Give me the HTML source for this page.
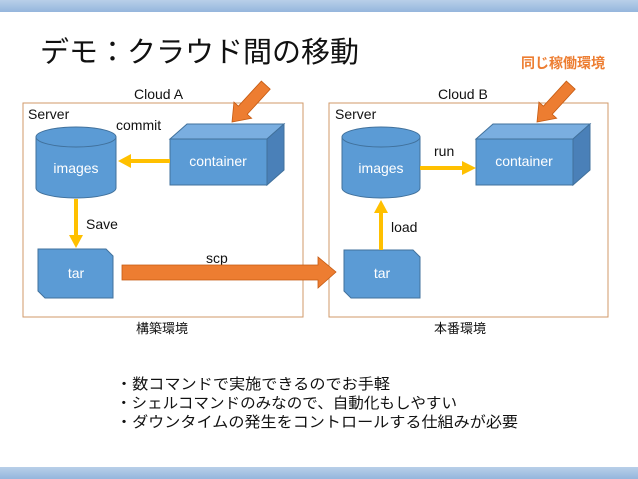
<!DOCTYPE html>
<html><head><meta charset="utf-8"><style>
html,body{margin:0;padding:0;background:#fff;}
svg{display:block;}
text{font-family:"Liberation Sans","Noto Sans CJK JP",sans-serif;}
</style></head><body>
<svg width="638" height="479" viewBox="0 0 638 479" xmlns="http://www.w3.org/2000/svg">
<defs>
<linearGradient id="bar" x1="0" y1="0" x2="0" y2="1"><stop offset="0" stop-color="#b8cfe9"/><stop offset="1" stop-color="#95b6dd"/></linearGradient>
</defs>
<rect x="0" y="0" width="638" height="12" fill="url(#bar)"/>
<rect x="0" y="467" width="638" height="12" fill="url(#bar)"/>
<text x="40" y="62" font-size="29" fill="#111">デモ：クラウド間の移動</text>
<text x="521" y="68" font-size="14" fill="#ed7d31" font-weight="bold">同じ稼働環境</text>

<text x="134" y="99" font-size="14" fill="#111">Cloud A</text>
<text x="438" y="99" font-size="14" fill="#111">Cloud B</text>
<rect x="23" y="103" width="280" height="214" fill="none" stroke="#d09a6a" stroke-width="1"/>
<rect x="329" y="103" width="279" height="214" fill="none" stroke="#d09a6a" stroke-width="1"/>
<text x="28" y="119" font-size="14" fill="#111">Server</text>
<text x="335" y="119" font-size="14" fill="#111">Server</text>
<text x="116" y="130" font-size="14" fill="#111">commit</text>
<text x="434" y="156" font-size="14" fill="#111">run</text>
<text x="86" y="229" font-size="14" fill="#111">Save</text>
<text x="391" y="232" font-size="14" fill="#111">load</text>
<text x="206" y="263" font-size="14" fill="#111">scp</text>
<text x="136" y="333" font-size="13" fill="#111">構築環境</text>
<text x="434" y="333" font-size="13" fill="#111">本番環境</text>

<g stroke="#41719c" stroke-width="1">
<path d="M36,137 L36,188 A40,10 0 0 0 116,188 L116,137 Z" fill="#5b9bd5"/>
<ellipse cx="76" cy="137" rx="40" ry="10" fill="#5b9bd5"/>
<path d="M342,137 L342,188 A39,10 0 0 0 420,188 L420,137 Z" fill="#5b9bd5"/>
<ellipse cx="381" cy="137" rx="39" ry="10" fill="#5b9bd5"/>
</g>
<text x="76" y="173" font-size="14" fill="#fff" text-anchor="middle">images</text>
<text x="381" y="173" font-size="14" fill="#fff" text-anchor="middle">images</text>

<g stroke="#41719c" stroke-width="1">
<polygon points="170,139 187,124 284,124 267,139" fill="#7aaee0"/>
<polygon points="267,139 284,124 284,170 267,185" fill="#4a80b8"/>
<rect x="170" y="139" width="97" height="46" fill="#5b9bd5"/>
<polygon points="476,139 493,124 590,124 573,139" fill="#7aaee0"/>
<polygon points="573,139 590,124 590,170 573,185" fill="#4a80b8"/>
<rect x="476" y="139" width="97" height="46" fill="#5b9bd5"/>
</g>
<text x="218" y="166" font-size="14" fill="#fff" text-anchor="middle">container</text>
<text x="524" y="166" font-size="14" fill="#fff" text-anchor="middle">container</text>

<g stroke="#41719c" stroke-width="1" fill="#5b9bd5">
<polygon points="38,249 106,249 113,256 113,298 45,298 38,291"/>
<polygon points="344,250 413,250 420,257 420,298 351,298 344,291"/>
</g>
<text x="76" y="278" font-size="14" fill="#fff" text-anchor="middle">tar</text>
<text x="382" y="278" font-size="14" fill="#fff" text-anchor="middle">tar</text>

<g fill="#ffc000">
<rect x="130" y="159" width="40" height="4"/>
<polygon points="118,161 131,154 131,168"/>
<rect x="74" y="199" width="4" height="38"/>
<polygon points="76,248 69,235 83,235"/>
<rect x="420" y="166" width="44" height="4"/>
<polygon points="476,168 462,161 462,175"/>
<rect x="379" y="212" width="4" height="38"/>
<polygon points="381,200 374,213 388,213"/>
</g>

<g fill="#ed7d31" stroke="#c55a11" stroke-width="0.8">
<polygon points="122,265 318,265 318,257 336,272 318,288 318,280 122,280"/>
<polygon transform="translate(232,122) rotate(-47.5)" points="0,0 16,-12 16,-6 50,-6 50,6 16,6 16,12"/>
<polygon transform="translate(537,122) rotate(-47.5)" points="0,0 16,-12 16,-6 50,-6 50,6 16,6 16,12"/>
</g>

<text x="116" y="389" font-size="15" fill="#111" textLength="274" lengthAdjust="spacingAndGlyphs">・数コマンドで実施できるのでお手軽</text>
<text x="116" y="408" font-size="15" fill="#111" textLength="341" lengthAdjust="spacingAndGlyphs">・シェルコマンドのみなので、自動化もしやすい</text>
<text x="116" y="427" font-size="15" fill="#111" textLength="402" lengthAdjust="spacingAndGlyphs">・ダウンタイムの発生をコントロールする仕組みが必要</text>
</svg>
</body></html>
